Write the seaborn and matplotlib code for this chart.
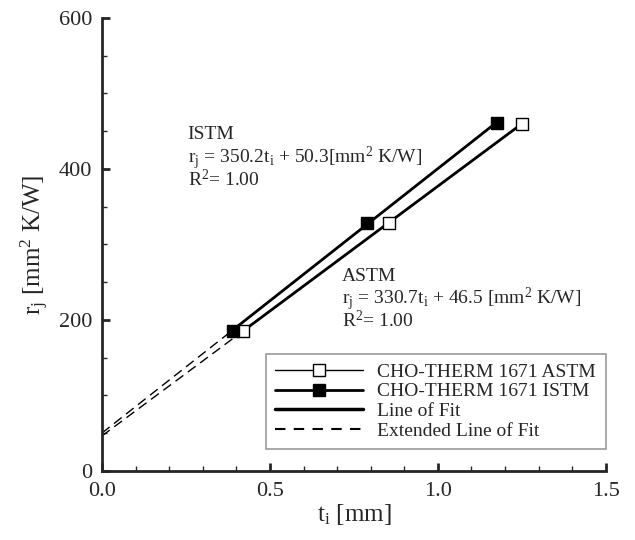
import pandas as pd
import seaborn as sns
import matplotlib.pyplot as plt
from matplotlib.lines import Line2D
from matplotlib.ticker import MultipleLocator

astm_t = [0.42, 0.855, 1.25]
astm_r = [186, 329, 460]
istm_t = [0.39, 0.79, 1.175]
istm_r = [186, 329, 461]

# linear fit coefficients (slope, intercept)
astm_fit = (330.7, 46.5)
istm_fit = (350.2, 50.3)

sns.set_style("ticks")
plt.rcParams["font.family"] = ["Liberation Serif", "DejaVu Serif"]
plt.rcParams["mathtext.fontset"] = "custom"
plt.rcParams["mathtext.rm"] = "Liberation Serif"
plt.rcParams["mathtext.it"] = "Liberation Serif:italic"

fig = plt.figure(figsize=(6.35, 5.4), dpi=100)
ax = fig.add_axes([0.1606, 0.1278, 0.7934, 0.8389])

for t, (m, b) in [(astm_t, astm_fit), (istm_t, istm_fit)]:
    ext = pd.DataFrame({"t": [0.0, t[0]], "r": [b, m * t[0] + b]})
    sns.lineplot(data=ext, x="t", y="r", ax=ax, color="black", lw=1.0,
                 linestyle=(0, (7, 4)))
    fit = pd.DataFrame({"t": [t[0], t[-1]], "r": [m * t[0] + b, m * t[-1] + b]})
    sns.lineplot(data=fit, x="t", y="r", ax=ax, color="black", lw=2.0)

df_a = pd.DataFrame({"t": astm_t, "r": astm_r})
df_i = pd.DataFrame({"t": istm_t, "r": istm_r})
sns.scatterplot(data=df_a, x="t", y="r", ax=ax, marker="s", s=64,
                facecolor="white", edgecolor="black", linewidth=1.0, zorder=5)
sns.scatterplot(data=df_i, x="t", y="r", ax=ax, marker="s", s=64,
                color="black", edgecolor="black", linewidth=1.0, zorder=5)

ax.set_xlim(0, 1.5)
ax.set_ylim(0, 600)
ax.xaxis.set_major_locator(MultipleLocator(0.5))
ax.xaxis.set_minor_locator(MultipleLocator(0.1))
ax.yaxis.set_major_locator(MultipleLocator(200))
ax.yaxis.set_minor_locator(MultipleLocator(50))
ax.xaxis.set_major_formatter(lambda v, p: f"{v:.1f}")
ax.yaxis.set_major_formatter(lambda v, p: f"{v:.0f}")
ax.tick_params(which="major", direction="in", length=6, width=2, labelsize=16)
ax.tick_params(which="minor", direction="in", length=3.5, width=1)
ax.tick_params(axis="x", pad=8)
ax.tick_params(axis="y", pad=7)
for s in ["left", "bottom"]:
    ax.spines[s].set_linewidth(2)
sns.despine(ax=ax)

ax.set_xlabel(r"t$_\mathrm{i}$ [mm]", fontsize=18, labelpad=1)
ax.set_ylabel(r"r$_\mathrm{j}$ [mm$^2$ K/W]", fontsize=18, labelpad=6)

fs = 14
ax.text(0.255, 440, "ISTM", fontsize=fs, va="baseline")
ax.text(0.255, 407, r"r$_\mathrm{j}$ = 350.2t$_\mathrm{i}$ + 50.3[mm$^2$ K/W]",
        fontsize=fs, va="baseline")
ax.text(0.255, 377, r"R$^2$= 1.00", fontsize=fs, va="baseline")
ax.text(0.714, 251, "ASTM", fontsize=fs, va="baseline")
ax.text(0.714, 221, r"r$_\mathrm{j}$ = 330.7t$_\mathrm{i}$ + 46.5 [mm$^2$ K/W]",
        fontsize=fs, va="baseline")
ax.text(0.714, 191, r"R$^2$= 1.00", fontsize=fs, va="baseline")

handles = [
    Line2D([], [], color="black", lw=1.0, marker="s", markersize=8,
           markerfacecolor="white", markeredgecolor="black"),
    Line2D([], [], color="black", lw=2.0, marker="s", markersize=8,
           markerfacecolor="black"),
    Line2D([], [], color="black", lw=2.5),
    Line2D([], [], color="black", lw=1.5, linestyle=(0, (5, 4))),
]
labels = ["CHO-THERM 1671 ASTM", "CHO-THERM 1671 ISTM",
          "Line of Fit", "Extended Line of Fit"]
leg = ax.legend(handles, labels, loc="lower right", bbox_to_anchor=(1.0, 0.048),
                borderaxespad=0, fontsize=14, frameon=True, fancybox=False,
                handlelength=4.5, borderpad=0.5, labelspacing=0.1,
                handletextpad=0.75)
leg.get_frame().set_edgecolor("gray")
leg.get_frame().set_linewidth(1.2)

fig.savefig("out.png", dpi=100)
